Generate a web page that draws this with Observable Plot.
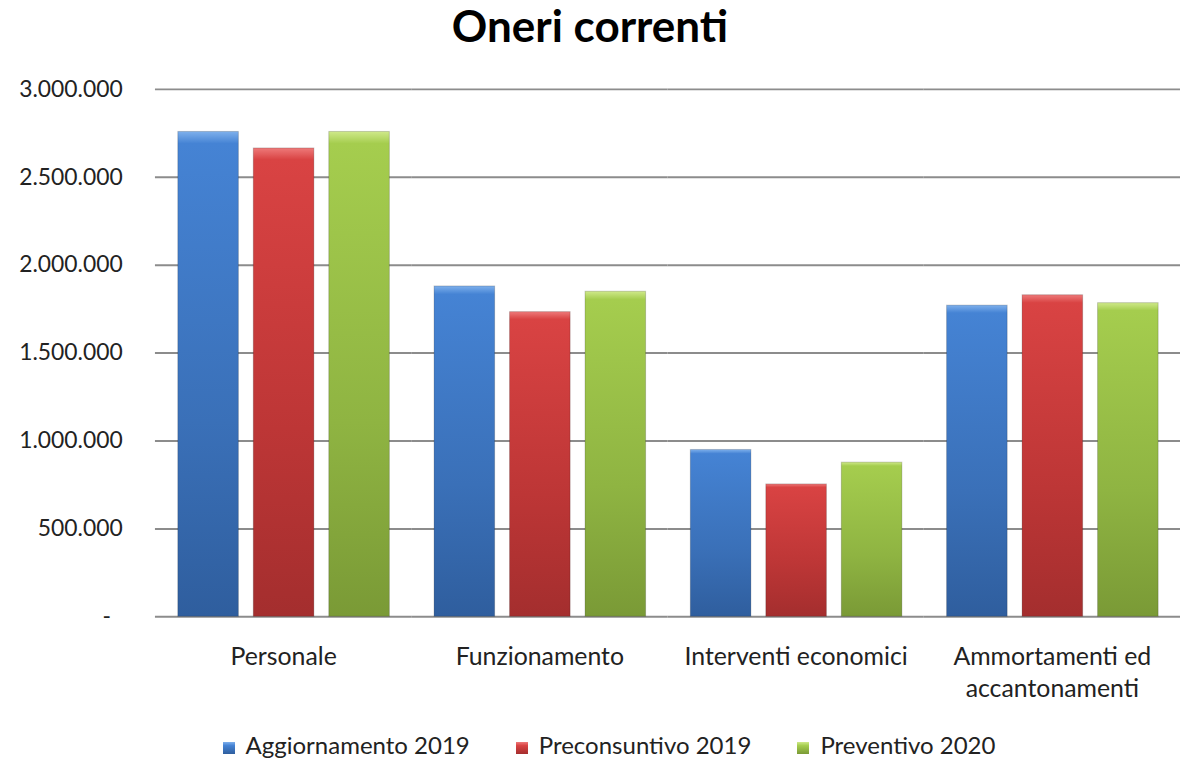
<!DOCTYPE html>
<html>
<head>
<meta charset="utf-8">
<script src="https://cdn.jsdelivr.net/npm/d3@7"></script>
<script src="https://cdn.jsdelivr.net/npm/@observablehq/plot@0.6"></script>
<style>
  html, body { margin: 0; padding: 0; background: #fff; width: 1180px; height: 760px; overflow: hidden; }
  body { font-family: Lato, "Open Sans", sans-serif; color: #222; }
  #title { height: 70px; line-height: 50px; text-align: center; font-size: 44px; font-weight: bold; color: #000; white-space: nowrap; }
  #chart { height: 640px; }
  #legend { height: 50px; box-sizing: border-box; padding-top: 20px; line-height: 30px; font-size: 24px; text-align: center; white-space: nowrap; color: #222; padding-left: 38px; }
  .item { display: inline-block; margin: 0 23px; }
  .sw { display: inline-block; width: 12px; height: 12px; margin-right: 11px; vertical-align: 0px; }
</style>
</head>
<body>
<div id="title">Oneri correnti</div>
<div id="chart"></div>
<div id="legend"></div>
<script>
const categories = ["Personale", "Funzionamento", "Interventi economici", "Ammortamenti ed\naccantonamenti"];
const series = ["Aggiornamento 2019", "Preconsuntivo 2019", "Preventivo 2020"];
const aggiornamento2019 = [2758000, 1879000, 949000, 1770000];
const preconsuntivo2019 = [2664000, 1733000, 753000, 1829000];
const preventivo2020   = [2758000, 1849000, 877000, 1784000];
const yTicks = [0, 500000, 1000000, 1500000, 2000000, 2500000, 3000000];

const colorIds = ["gBlue", "gRed", "gGreen"];
const gradStops = {
  gBlue:  ["#7eb0ec", "#4583d4", "#3a70b8", "#2f5e9e"],
  gRed:   ["#ee7a7a", "#d94343", "#bd3636", "#a42e2e"],
  gGreen: ["#cfe98a", "#a5cd4e", "#8fb442", "#7a9a36"]
};

const valuesBySeries = [aggiornamento2019, preconsuntivo2019, preventivo2020];
const data = [];
categories.forEach((c, i) => series.forEach((s, j) => data.push({ cat: c, series: s, value: valuesBySeries[j][i] })));

const itLocale = d3.formatLocale({ decimal: ",", thousands: ".", grouping: [3], currency: ["€", ""] });
const fmt = itLocale.format(",.0f");
const tickFmt = d => d === 0 ? "-\u00a0\u00a0" : fmt(d);

const chart = Plot.plot({
  width: 1188,
  height: 640,
  marginTop: 19,
  marginBottom: 90,
  marginLeft: 155,
  marginRight: 0,
  style: { fontFamily: "Lato, 'Open Sans', sans-serif", color: "#222", background: "#fff" },
  fx: { domain: categories, padding: 0, label: null },
  x: { domain: series, paddingInner: 0.2, paddingOuter: 0.279, axis: null },
  y: { domain: [0, 3000000], label: null },
  color: { domain: series, range: colorIds.map(id => `url(#${id})`) },
  marks: [
    Plot.gridY(yTicks, { stroke: "#8c8c8c", strokeOpacity: 1, strokeWidth: 2 }),
    Plot.barY(data, { fx: "cat", x: "series", y: "value", fill: "series", stroke: "#000", strokeOpacity: 0.18, strokeWidth: 1 }),
    Plot.axisY(yTicks, { tickFormat: tickFmt, tickSize: 0, tickPadding: 33, fontSize: 23, fill: "#222", label: null }),
    Plot.axisFx({ anchor: "bottom", tickSize: 0, tickPadding: 26, fontSize: 25, lineHeight: 1.28, label: null, fill: "#222" })
  ]
});

const ns = "http://www.w3.org/2000/svg";
const defs = document.createElementNS(ns, "defs");
for (const id of colorIds) {
  const g = document.createElementNS(ns, "linearGradient");
  g.setAttribute("id", id);
  g.setAttribute("x1", "0"); g.setAttribute("y1", "0");
  g.setAttribute("x2", "0"); g.setAttribute("y2", "1");
  const st = gradStops[id];
  [[0, st[0]], [0.025, st[1]], [0.6, st[2]], [1, st[3]]].forEach(([o, c]) => {
    const s = document.createElementNS(ns, "stop");
    s.setAttribute("offset", o);
    s.setAttribute("stop-color", c);
    g.appendChild(s);
  });
  defs.appendChild(g);
}
chart.insertBefore(defs, chart.firstChild);
document.getElementById("chart").appendChild(chart);

const legend = document.getElementById("legend");
series.forEach((s, j) => {
  const it = document.createElement("span");
  it.className = "item";
  const sw = document.createElement("span");
  sw.className = "sw";
  const st = gradStops[colorIds[j]];
  sw.style.background = `linear-gradient(${st[0]}, ${st[1]} 30%, ${st[3]})`;
  it.appendChild(sw);
  it.appendChild(document.createTextNode(s));
  legend.appendChild(it);
});
</script>
</body>
</html>
